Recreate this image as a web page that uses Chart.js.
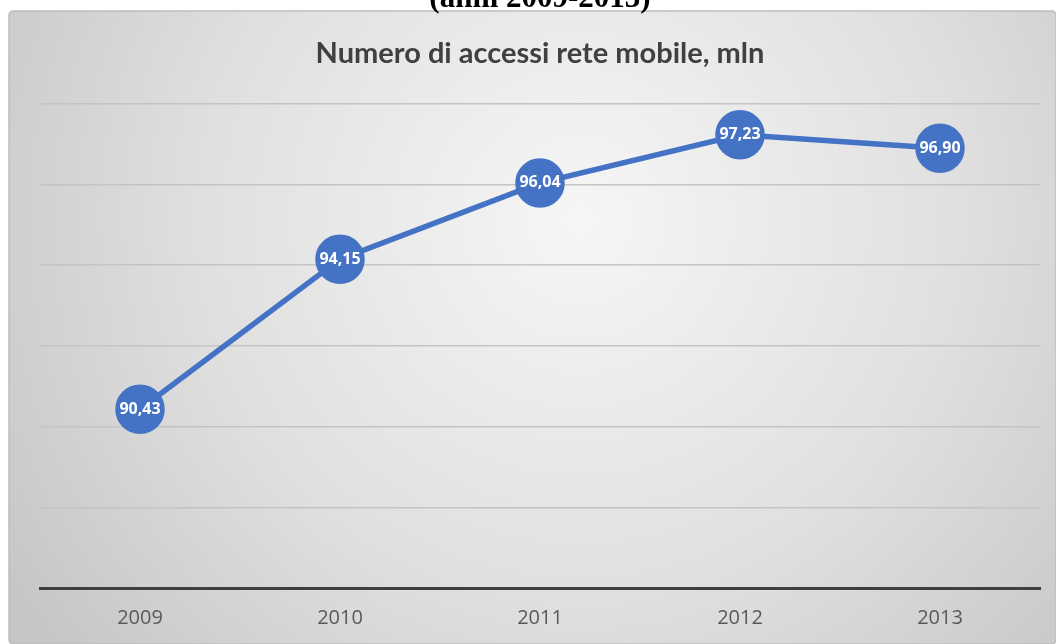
<!DOCTYPE html>
<html lang="it">
<head>
    <meta charset="UTF-8">
    <title>Numero di accessi rete mobile, mln</title>
    <script src="https://cdn.jsdelivr.net/npm/chart.js"></script>
    <style>
        body { margin: 0; background: #fff; }
        #wrap { width: 1056px; height: 644px; }
    </style>
</head>
<body>
    <div id="wrap">
        <canvas id="lineChart" width="1056" height="644"></canvas>
    </div>

    <script>
        // Data
        const years = ['2009', '2010', '2011', '2012', '2013'];
        const accessi = [90.43, 94.15, 96.04, 97.23, 96.90];
        const headingText = '(anni 2009-2013)';
        const chartTitle = 'Numero di accessi rete mobile, mln';

        // frame + gray gradient behind the chart, plus the cut heading on top
        const backdrop = {
            id: 'backdrop',
            beforeDraw(chart) {
                const ctx = chart.ctx;
                const w = chart.width, h = chart.height;
                ctx.save();
                ctx.fillStyle = '#ffffff';
                ctx.fillRect(0, 0, w, h);

                const g = ctx.createRadialGradient(580, 220, 0, 580, 220, 680);
                g.addColorStop(0, '#f6f6f6');
                g.addColorStop(0.55, '#e0e0e0');
                g.addColorStop(1, '#c6c6c6');
                ctx.fillStyle = g;
                ctx.beginPath();
                ctx.roundRect(9, 11, w - 9, h - 11, 4);
                ctx.fill();
                ctx.strokeStyle = '#bdbdbd';
                ctx.lineWidth = 1.5;
                ctx.stroke();

                ctx.fillStyle = '#000';
                ctx.font = 'bold 31px "Liberation Serif", serif';
                ctx.textAlign = 'center';
                ctx.textBaseline = 'alphabetic';
                ctx.fillText(headingText, 540, 7);
                ctx.restore();
            }
        };

        // values written inside the markers, Italian decimal comma
        const pointLabels = {
            id: 'pointLabels',
            afterDatasetsDraw(chart) {
                const ctx = chart.ctx;
                const meta = chart.getDatasetMeta(0);
                ctx.save();
                ctx.fillStyle = '#ffffff';
                ctx.font = 'bold 16px "Open Sans", sans-serif';
                ctx.textAlign = 'center';
                ctx.textBaseline = 'middle';
                meta.data.forEach((pt, i) => {
                    ctx.fillText(accessi[i].toFixed(2).replace('.', ','), pt.x, pt.y);
                });
                ctx.restore();
            }
        };

        const ctx = document.getElementById('lineChart').getContext('2d');
        new Chart(ctx, {
            type: 'line',
            data: {
                labels: years,
                datasets: [{
                    data: accessi,
                    borderColor: '#4472C4',
                    backgroundColor: '#4472C4',
                    borderWidth: 5.5,
                    pointRadius: 22,
                    pointHoverRadius: 22,
                    pointBackgroundColor: '#4472C4',
                    pointBorderColor: '#4472C4',
                    tension: 0
                }]
            },
            options: {
                responsive: false,
                animation: false,
                layout: { autoPadding: false, padding: { left: 40, right: 16, top: 0, bottom: 4 } },
                plugins: {
                    legend: { display: false },
                    tooltip: { enabled: false },
                    title: {
                        display: true,
                        text: chartTitle,
                        color: '#404040',
                        font: { family: 'Lato, sans-serif', size: 29, weight: 'bold' },
                        padding: { top: 36, bottom: 33 }
                    }
                },
                scales: {
                    x: {
                        offset: true,
                        grid: { display: false },
                        border: { display: true, color: '#3f3f3f', width: 3 },
                        ticks: {
                            color: '#595959',
                            font: { family: '"Open Sans", sans-serif', size: 20 },
                            padding: 10
                        }
                    },
                    y: {
                        min: 86,
                        max: 98,
                        ticks: { display: false, stepSize: 2 },
                        border: { display: false },
                        grid: {
                            drawTicks: false,
                            lineWidth: 1.5,
                            color: c => c.tick.value === 86 ? 'rgba(0,0,0,0)' : '#c4c4c4'
                        }
                    }
                }
            },
            plugins: [backdrop, pointLabels]
        });
    </script>
</body>
</html>
